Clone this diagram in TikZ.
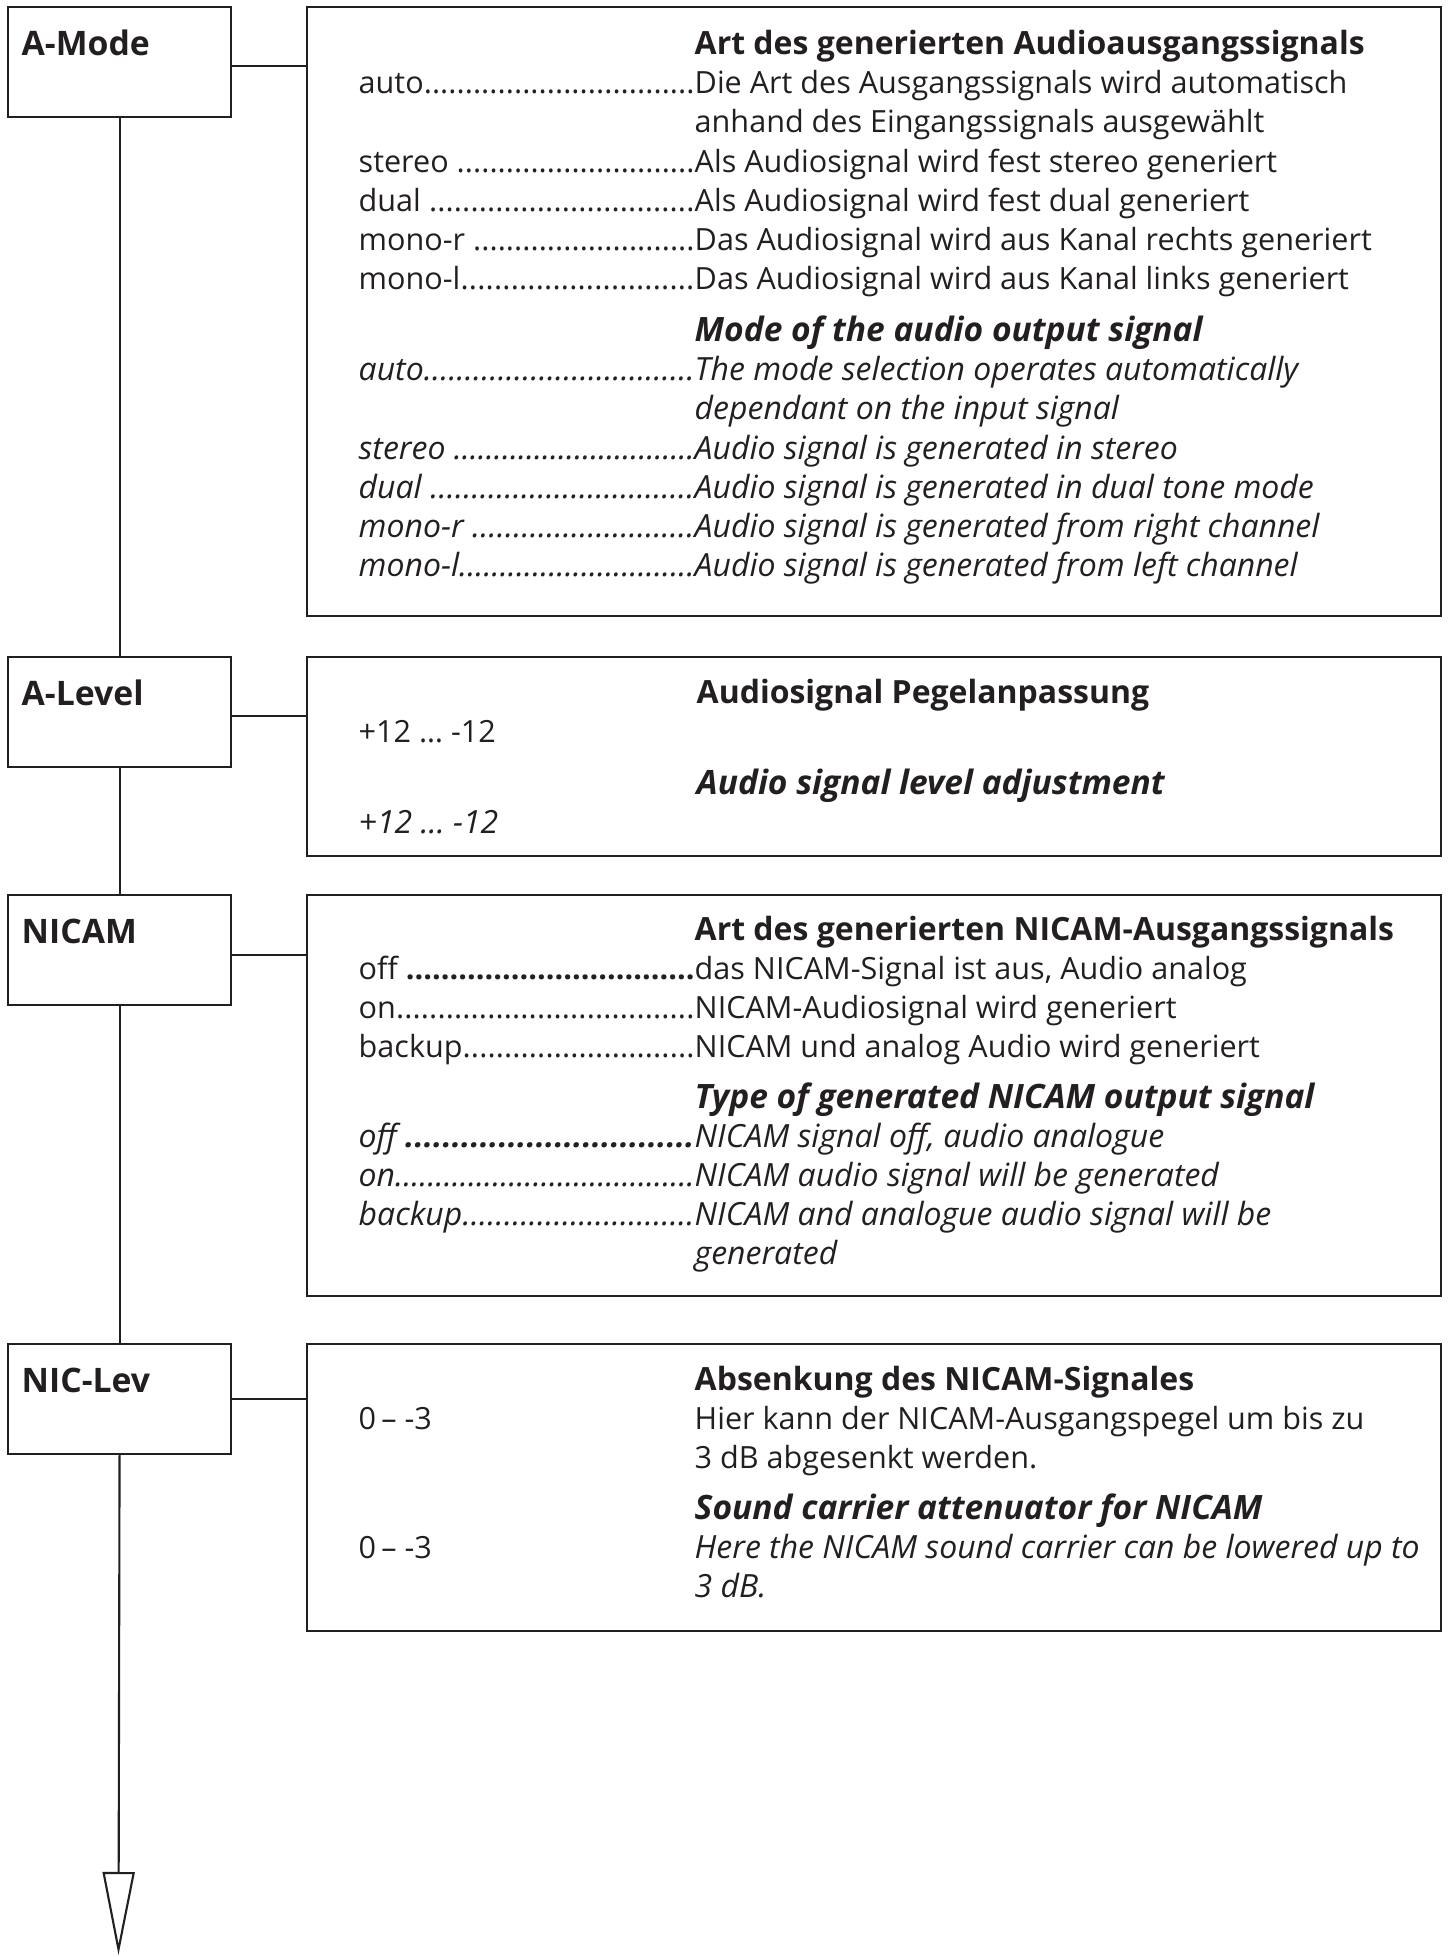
\documentclass[tikz,border=0pt]{standalone}
\usepackage{fontspec}
\setmainfont{Open Sans}
\usepackage{xcolor}
\usetikzlibrary{arrows.meta}
\definecolor{inkgray}{HTML}{231F20}
\newcommand{\dotrow}[1]{\hbox to 3.36cm{#1\xleaders\hbox{.}\hfill}}

\begin{document}
\begin{tikzpicture}[x=1cm,y=1cm]
  \tikzset{
    menu/.style={draw=inkgray,line width=0.6pt,minimum width=2.23cm,minimum height=1.10cm,inner sep=0pt,anchor=north west},
    panel/.style={draw=inkgray,line width=0.6pt,minimum width=11.34cm,inner sep=0pt,anchor=north west},
    wire/.style={draw=inkgray,line width=0.6pt},
    menutext/.style={font=\bfseries\fontsize{9.6}{11}\selectfont,text=inkgray,inner sep=0pt,anchor=base west},
    head/.style={font=\bfseries\fontsize{9.1}{11}\selectfont,text=inkgray,inner sep=0pt,anchor=base west},
    ehead/.style={head,font=\bfseries\itshape\fontsize{9.55}{11}\selectfont},
    body/.style={font=\fontsize{8.7}{10}\selectfont,text=inkgray,inner sep=0pt,anchor=base west},
    ebody/.style={body,font=\itshape\fontsize{9.1}{10}\selectfont},
  }
  \useasboundingbox (0,0) rectangle (14.53,19.57);

  % Menu column, boxes 2.23 x 1.10, left edge at 0.07.
  \node[menu] (amode)  at (0.07,19.51) {};
  \node[menu] (alevel) at (0.07,13.01) {};
  \node[menu] (nicam)  at (0.07,10.63) {};
  \node[menu] (niclev) at (0.07,6.14) {};
  \foreach \mb/\name in {amode/A-Mode,alevel/A-Level,nicam/NICAM,niclev/NIC-Lev} {
    \node[menutext] (\mb-t) at ([xshift=0.14cm,yshift=-0.50cm]\mb.north west) {\name};
  }

  % Panels on the right.
  \node[panel,minimum height=6.09cm] (pamode)  at (3.06,19.51) {};
  \node[panel,minimum height=1.99cm] (palevel) at (3.06,13.01) {};
  \node[panel,minimum height=4.01cm] (pnicam)  at (3.06,10.63) {};
  \node[panel,minimum height=2.87cm] (pniclev) at (3.06,6.14) {};

  \foreach \mb/\dy in {amode/-0.04,alevel/-0.04,nicam/-0.05,niclev/0} {
    \draw[wire] ([yshift=\dy cm]\mb.east) -- ([yshift=\dy cm]\mb.east -| p\mb.west);
  }
  \draw[wire] (amode.south) -- (alevel.north);
  \draw[wire] (alevel.south) -- (nicam.north);
  \draw[wire] (nicam.south) -- (niclev.north);
  \coordinate (down) at (1.185,0.02);
  \draw[wire,-{Triangle[open,length=0.83cm,width=0.32cm]}] (niclev.south) -- (down);

  % A-Mode, keys at 3.58, text at 6.94.
  \node[head] (amh1) at (6.94,19.02) {Art des generierten Audioausgangssignals};
  \foreach \yy/\key/\txt [count=\i] in {
      18.63/auto/{Die Art des Ausgangssignals wird automatisch},
      17.84/{stereo\ }/{Als Audiosignal wird fest stereo generiert},
      17.45/{dual\ }/{Als Audiosignal wird fest dual generiert},
      17.06/{mono-r\ }/{Das Audiosignal wird aus Kanal rechts generiert},
      16.67/mono-l/{Das Audiosignal wird aus Kanal links generiert}} {
    \node[body] (amk\i) at (3.58,\yy) {\dotrow{\key}};
    \node[body] (amd\i) at (6.94,\yy) {\txt};
  }
  \node[body] (amc1) at (6.94,18.24) {anhand des Eingangssignals ausgewählt};
  \node[ehead] (amh2) at (6.94,16.15) {Mode of the audio output signal};
  \foreach \yy/\key/\txt [count=\i] in {
      15.76/auto/{The mode selection operates automatically},
      14.97/{stereo\ }/{Audio signal is generated in stereo},
      14.58/{dual\ }/{Audio signal is generated in dual tone mode},
      14.19/{mono-r\ }/{Audio signal is generated from right channel},
      13.80/mono-l/{Audio signal is generated from left channel}} {
    \node[ebody] (amek\i) at (3.58,\yy) {\dotrow{\key}};
    \node[ebody] (amed\i) at (6.94,\yy) {\txt};
  }
  \node[ebody] (amc2) at (6.94,15.37) {dependant on the input signal};

  % A-Level.
  \node[head] (alh1) at (6.96,12.53) {Audiosignal Pegelanpassung};
  \node[body] (alk1) at (3.58,12.14) {+12 … -12};
  \node[ehead] (alh2) at (6.96,11.62) {Audio signal level adjustment};
  \node[ebody] (alk2) at (3.58,11.23) {+12 … -12};

  % NICAM.
  \node[head] (nch1) at (6.94,10.16) {Art des generierten NICAM-Ausgangssignals};
  \foreach \yy/\key/\txt [count=\i] in {
      9.77/{off\ \bfseries}/{das NICAM-Signal ist aus, Audio analog},
      9.38/on/{NICAM-Audiosignal wird generiert},
      8.99/backup/{NICAM und analog Audio wird generiert}} {
    \node[body] (nck\i) at (3.58,\yy) {\dotrow{\key}};
    \node[body] (ncd\i) at (6.94,\yy) {\txt};
  }
  \node[ehead] (nch2) at (6.94,8.48) {Type of generated NICAM output signal};
  \foreach \yy/\key/\txt [count=\i] in {
      8.09/{off\ \bfseries}/{NICAM signal off, audio analogue},
      7.70/on/{NICAM audio signal will be generated},
      7.31/backup/{NICAM and analogue audio signal will be}} {
    \node[ebody] (ncek\i) at (3.58,\yy) {\dotrow{\key}};
    \node[ebody] (nced\i) at (6.94,\yy) {\txt};
  }
  \node[ebody] (ncc1) at (6.94,6.92) {generated};

  % NIC-Lev.
  \node[head] (nlh1) at (6.94,5.66) {Absenkung des NICAM-Signales};
  \node[body] (nlk1) at (3.58,5.27) {0\,– -3};
  \node[body] (nld1) at (6.94,5.27) {Hier kann der NICAM-Ausgangspegel um bis zu};
  \node[body] (nlc1) at (6.94,4.88) {3 dB abgesenkt werden.};
  \node[ehead] (nlh2) at (6.94,4.37) {Sound carrier attenuator for NICAM};
  \node[body] (nlk2) at (3.58,3.98) {0\,– -3};
  \node[ebody] (nld2) at (6.94,3.98) {Here the NICAM sound carrier can be lowered up to};
  \node[ebody] (nlc2) at (6.94,3.59) {3 dB.};
\end{tikzpicture}
\end{document}
